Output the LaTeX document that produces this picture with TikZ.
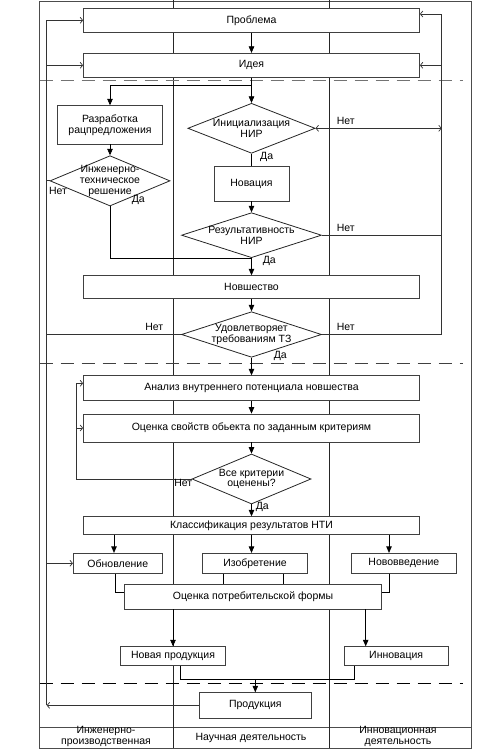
\documentclass[tikz,border=0pt]{standalone}
\usepackage{fontspec}
\setmainfont{Liberation Sans}
\usetikzlibrary{arrows.meta,shapes.geometric}
\newcommand{\fs}{\fontsize{10.5}{10.8}\selectfont}
\newcommand{\fh}{\fontsize{10.5}{11.7}\selectfont}
\begin{document}
\begin{tikzpicture}[x=1pt,y=-1pt,
  line width=0.7pt,
  box/.style={draw=black!75, fill=white, line width=0.8pt, inner sep=0pt, align=center, font=\fs},
  dia/.style={diamond, draw=black!85, fill=white, line width=0.8pt, inner sep=0pt},
  lbl/.style={font=\fs, inner sep=0pt, align=center},
  hlbl/.style={font=\fh, inner sep=0pt, align=center},
  arr/.style={-{Triangle[length=6.5pt,width=5.5pt]}},
  farr/.style={-{Straight Barb[length=2.5pt,width=6pt]}},
  fb/.style={draw=black!80},
  dline/.style={dash pattern=on 13pt off 8pt, line width=0.9pt}
]
\useasboundingbox (0,0) rectangle (489,751);
% frame and lanes
\draw[black!70] (39.5,1.7) rectangle (471,748);
\draw[black!70] (39.5,727.7) -- (471,727.7);
\draw[black!85] (173,0) -- (173,748);
\draw[black!85] (329.7,0) -- (329.7,748);
% dashed separators
\draw[dline, black!55, line width=1.2pt] (39.5,80.7) -- (463,80.7);
\draw[dline, black!75] (39.5,363.7) -- (463,363.7);
\draw[dline, black] (39.5,683.3) -- (463,683.3);

% nodes
\node[box, minimum width=336pt, minimum height=24pt] (problem) at (251.5,20.3) {Проблема};
\node[box, minimum width=336pt, minimum height=24pt] (idea) at (251.5,65.3) {Идея};
\node[box, minimum width=104.6pt, minimum height=38.3pt] (razr) at (110,124.85) {Разработка\\рацпредложения};
\node[dia, minimum width=120pt, minimum height=50.3pt,
  label={[lbl]center:Инженерно-\\техническое\\решение}] (ints) at (110,180.85) {};
\node[dia, minimum width=127.3pt, minimum height=50pt,
  label={[lbl]center:Инициализация\\НИР}] (init) at (251.5,128.3) {};
\node[box, minimum width=75pt, minimum height=34.7pt] (novac) at (251.5,183.65) {Новация};
\node[dia, minimum width=140pt, minimum height=45pt,
  label={[lbl]center:Результативность\\НИР}] (rez) at (251.5,235.2) {};
\node[box, minimum width=336pt, minimum height=22.6pt] (novsh) at (251.5,287) {Новшество};
\node[dia, minimum width=140pt, minimum height=45.6pt,
  label={[lbl]center:Удовлетворяет\\требованиям ТЗ}] (udov) at (251.5,334.5) {};
\node[box, minimum width=336pt, minimum height=25pt] (anal) at (251.5,388.2) {Анализ внутреннего потенциала новшества};
\node[box, minimum width=336pt, minimum height=28pt] (ocen) at (251.5,428) {Оценка свойств обьекта по заданным критериям};
\node[dia, minimum width=119pt, minimum height=50pt,
  label={[lbl]center:Все критерии\\оценены?}] (vse) at (251.5,479) {};
\node[box, minimum width=336pt, minimum height=17.6pt] (klass) at (251.5,525.5) {Классификация результатов НТИ};
\node[box, minimum width=89pt, minimum height=20pt] (obnov) at (117.8,563.3) {Обновление};
\node[box, minimum width=104.6pt, minimum height=20pt] (izobr) at (255,563.3) {Изобретение};
\node[box, minimum width=104.3pt, minimum height=20pt] (novoved) at (403.85,563.3) {Нововведение};
\node[box, minimum width=257.4pt, minimum height=24.3pt] (potreb) at (253,596.85) {Оценка потребительской формы};
\node[box, minimum width=104.6pt, minimum height=19pt] (novprod) at (173,656.2) {Новая продукция};
\node[box, minimum width=104.3pt, minimum height=19pt] (innov) at (396.15,656.2) {Инновация};
\node[box, minimum width=112pt, minimum height=25.3pt] (prod) at (255.3,705.35) {Продукция};

% header labels
\node[hlbl] (hl1) at (106,736.5) {Инженерно-\\производственная};
\node[hlbl] (hl2) at (251,738.3) {Научная деятельность};
\node[hlbl] (hl3) at (398,736.5) {Инновационная\\деятельность};

% helper coordinates
\coordinate (j1) at (251.5,85.7);
\coordinate (L) at (46.7,0);
\coordinate (R) at (441.7,0);
\coordinate (V) at (76.7,0);
\coordinate (t1) at (0,14);
\coordinate (t2) at (0,383.3);
\coordinate (ka) at (114,0);
\coordinate (kc) at (389,0);
\coordinate (o1) at (115.7,0);
\coordinate (h1) at (0,592.3);
\coordinate (i1) at (223.3,0);
\coordinate (i2) at (283.3,0);
\coordinate (p2) at (365.7,0);
\coordinate (q1) at (180.3,0);
\coordinate (q2) at (354,0);
\coordinate (h2) at (0,679);

% main flow
\draw[arr] (problem.south) -- (idea.north);
\draw[arr] (idea.south) -- (init.north);
\draw[arr] (j1) -| (razr.north);
\draw[arr] (razr.south) -- (ints.north);
\draw (init.south) -- (novac.north);
\draw[arr] (novac.south) -- (rez.north);
\draw (ints.south) |- (rez.south);
\draw[arr] (rez.south) -- (novsh.north);
\draw[arr] (novsh.south) -- (udov.north);
\draw[arr] (udov.south) -- (anal.north);
\draw[arr] (anal.south) -- (ocen.north);
\draw[arr] (ocen.south) -- (vse.north);
\draw[arr] (vse.south) -- (klass.north);
\draw[arr] (klass.south -| ka) -- (obnov.north -| ka);
\draw[arr] (klass.south) -- (klass.south |- izobr.north);
\draw[arr] (klass.south -| kc) -- (novoved.north -| kc);
\draw (obnov.south -| o1) |- (potreb.west |- h1);
\draw (izobr.south -| i1) -- (potreb.north -| i1);
\draw (izobr.south -| i2) -- (potreb.north -| i2);
\draw (novoved.south -| kc) |- (potreb.east |- h1);
\draw[arr] (potreb.south -| novprod.north) -- (novprod.north);
\draw[arr] (potreb.south -| p2) -- (innov.north -| p2);
\draw (novprod.south -| q1) |- (h2 -| q2) -- (innov.south -| q2);
\draw[arr] (h2 -| prod.north) -- (prod.north);

% feedback left
\draw[fb, farr] (prod.west) -- (prod.west -| L);
\draw[fb, farr] (prod.west -| L) |- (problem.west);
\draw[fb, farr] (L |- idea.west) -- (idea.west);
\draw[fb, farr] (L |- obnov.west) -- (obnov.west);
\draw[fb] (udov.west) -- (udov.west -| L);
\draw[fb] (ints.west) -- (ints.west -| L);
% feedback right
\draw[fb, farr] (udov.east) -- (udov.east -| R) |- (problem.east |- t1);
\draw[fb, farr] (R |- idea.east) -- (idea.east);
\draw[fb] (rez.east) -- (rez.east -| R);
\draw[fb, {Straight Barb[length=2.5pt,width=6pt]}-{Straight Barb[length=2.5pt,width=6pt]}] (init.east) -- (init.east -| R);
% feedback criteria
\draw[fb, farr] (vse.west) -- (vse.west -| V) |- (anal.west |- t2);
\draw[fb, farr] (V |- ocen.west) -- (ocen.west);

% branch labels
\node[lbl] (n1) at (345.7,120.7) {Нет};
\node[lbl] (d1) at (266.7,156.7) {Да};
\node[lbl] (n2) at (345.7,227.7) {Нет};
\node[lbl] (d2) at (269.3,261) {Да};
\node[lbl] (n3) at (58,190.7) {Нет};
\node[lbl] (d3) at (138.3,200) {Да};
\node[lbl] (n4) at (154.3,326.7) {Нет};
\node[lbl] (n5) at (345.7,326.7) {Нет};
\node[lbl] (d4) at (280.3,356) {Да};
\node[lbl] (n6) at (183.3,483.3) {Нет};
\node[lbl] (d5) at (262.3,506.7) {Да};
\end{tikzpicture}
\end{document}
